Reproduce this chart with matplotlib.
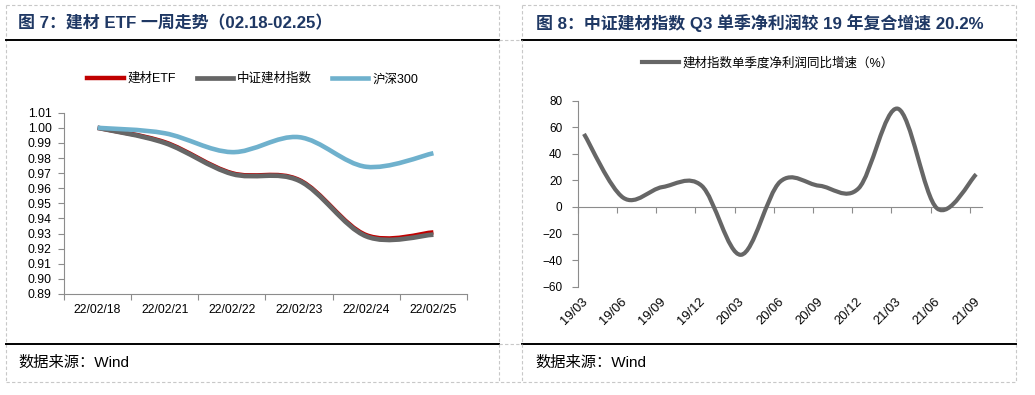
import matplotlib.pyplot as plt
from matplotlib.path import Path
from matplotlib.patches import PathPatch
from matplotlib.lines import Line2D
import matplotlib.transforms as mtransforms

plt.rcParams["font.family"] = ["Liberation Sans", "Noto Sans CJK SC", "DejaVu Sans"]

# ---- data: figure 7 (one-week trend) ----
days = ["22/02/18", "22/02/21", "22/02/22", "22/02/23", "22/02/24", "22/02/25"]
etf = [1.000, 0.9905, 0.9700, 0.9655, 0.9290, 0.9308]
index_jc = [1.000, 0.9900, 0.9695, 0.9650, 0.9282, 0.9293]
hs300 = [1.000, 0.9964, 0.9839, 0.9938, 0.9742, 0.9832]

# ---- data: figure 8 (quarterly net profit yoy, %) ----
quarters = ["19/03", "19/06", "19/09", "19/12", "20/03", "20/06",
            "20/09", "20/12", "21/03", "21/06", "21/09"]
profit_yoy = [55, 7, 15, 16, -36, 19, 16, 14, 74, -1, 24.6]

RED = "#C00000"
GRAY = "#666666"
BLUE = "#6FB1CD"
NAVY = "#1F3864"
AXC = "#8C8C8C"


def smooth_path(xs, ys):
    # excel style smoothed line drawn as cubic bezier segments
    pts = list(zip(xs, ys))
    n = len(pts)
    verts = [pts[0]]
    codes = [Path.MOVETO]
    for i in range(n - 1):
        p0 = pts[i - 1] if i > 0 else pts[i]
        p1 = pts[i]
        p2 = pts[i + 1]
        p3 = pts[i + 2] if i + 2 < n else pts[i + 1]
        c1 = (p1[0] + (p2[0] - p0[0]) / 6, p1[1] + (p2[1] - p0[1]) / 6)
        c2 = (p2[0] - (p3[0] - p1[0]) / 6, p2[1] - (p3[1] - p1[1]) / 6)
        verts += [c1, c2, p2]
        codes += [Path.CURVE4] * 3
    return Path(verts, codes)


def draw_smooth(ax, xs, ys, color, lw, z):
    patch = PathPatch(smooth_path(xs, ys), facecolor="none", edgecolor=color,
                      lw=lw, capstyle="butt", joinstyle="round", zorder=z)
    ax.add_patch(patch)


fig = plt.figure(figsize=(10.35, 3.95), dpi=100)
W, H = 1035.0, 395.0


def fx(px):
    return px / W


def fy(py):
    return 1 - py / H


# ---- frame: dashed cell borders, black rules, titles, sources ----
dash = dict(color="#C8C8C8", lw=0.8, ls=(0, (3, 2)), transform=fig.transFigure)
for x0, x1 in [(6, 499), (522, 1016)]:
    fig.add_artist(Line2D([fx(x0), fx(x1)], [fy(5), fy(5)], **dash))
    fig.add_artist(Line2D([fx(x0), fx(x0)], [fy(5), fy(382)], **dash))
    fig.add_artist(Line2D([fx(x1), fx(x1)], [fy(5), fy(382)], **dash))
    fig.add_artist(Line2D([fx(x0), fx(x1)], [fy(40), fy(40)], color="black", lw=1.4,
                          transform=fig.transFigure))
    fig.add_artist(Line2D([fx(x0), fx(x1)], [fy(344), fy(344)], color="black", lw=1.4,
                          transform=fig.transFigure))
fig.add_artist(Line2D([fx(6), fx(1016)], [fy(382), fy(382)], **dash))
fig.add_artist(Line2D([fx(499), fx(522)], [fy(40), fy(40)], **dash))
fig.add_artist(Line2D([fx(499), fx(522)], [fy(344), fy(344)], **dash))

fig.text(fx(18), fy(23), "图 7：建材 ETF 一周走势（02.18-02.25）", fontsize=12.2,
         fontweight="bold", color=NAVY, va="center", ha="left")
fig.text(fx(536), fy(23), "图 8：中证建材指数 Q3 单季净利润较 19 年复合增速 20.2%", fontsize=12.2,
         fontweight="bold", color=NAVY, va="center", ha="left")
fig.text(fx(18), fy(363), "数据来源：Wind", fontsize=11, va="center", ha="left")
fig.text(fx(535), fy(363), "数据来源：Wind", fontsize=11, va="center", ha="left")

# ---- left chart ----
ax1 = fig.add_axes([fx(64), fy(294), fx(467 - 64), (294 - 112.7) / H])
xs1 = list(range(len(days)))
draw_smooth(ax1, xs1, etf, RED, 3.2, 3)
draw_smooth(ax1, xs1, index_jc, GRAY, 3.4, 4)
draw_smooth(ax1, xs1, hs300, BLUE, 3.3, 5)
ax1.set_xlim(-0.5, len(days) - 0.5)
ax1.set_ylim(0.89, 1.01)
ax1.set_yticks([0.89 + 0.01 * k for k in range(13)])
ax1.yaxis.set_major_formatter(plt.FuncFormatter(lambda v, p: f"{v:.2f}"))
ax1.set_xticks([i - 0.5 for i in range(len(days) + 1)])
ax1.set_xticklabels([])
ax1.set_xticks(xs1, minor=True)
ax1.set_xticklabels(days, minor=True)
ax1.tick_params(axis="x", which="major", length=4, width=0.8, color=AXC, direction="out")
ax1.tick_params(axis="x", which="minor", length=0, pad=7, labelsize=8.7)
ax1.tick_params(axis="y", length=4, width=0.8, color=AXC, pad=5, labelsize=8.7)
for s in ["top", "right"]:
    ax1.spines[s].set_visible(False)
for s in ["left", "bottom"]:
    ax1.spines[s].set_color(AXC)
    ax1.spines[s].set_linewidth(0.8)

handles1 = [Line2D([], [], color=RED, lw=3.2),
            Line2D([], [], color=GRAY, lw=3.4),
            Line2D([], [], color=BLUE, lw=3.3)]
fig.legend(handles1, ["建材ETF", "中证建材指数", "沪深300"], loc="center",
           bbox_to_anchor=(fx(253), fy(79)), ncol=3, frameon=False, fontsize=9,
           handlelength=2.9, handletextpad=0.35, columnspacing=1.6)

# ---- right chart ----
ax2 = fig.add_axes([fx(577.7), fy(286.7), fx(981.7 - 577.7), (286.7 - 100.7) / H])
xs2 = list(range(len(quarters)))
draw_smooth(ax2, xs2, profit_yoy, GRAY, 3.0, 4)
ax2.set_xlim(-0.16, 10.14)
ax2.set_ylim(-60, 80)
ax2.set_yticks(range(-60, 81, 20))
ax2.set_xticks([i - 0.16 for i in range(len(quarters))])
ax2.set_xticklabels([])
ax2.spines["bottom"].set_position(("data", 0))
ax2.tick_params(axis="x", length=4, width=0.8, color=AXC, direction="out")
ax2.tick_params(axis="y", length=4, width=0.8, color=AXC, pad=7, labelsize=8.5)
for s in ["top", "right"]:
    ax2.spines[s].set_visible(False)
for s in ["left", "bottom"]:
    ax2.spines[s].set_color(AXC)
    ax2.spines[s].set_linewidth(0.8)
trans = mtransforms.blended_transform_factory(ax2.transData, ax2.transAxes)
for i, q in enumerate(quarters):
    ax2.text(i + 0.15, -0.05, q, transform=trans, rotation=45, ha="right", va="top",
             fontsize=9.3)

fig.legend([Line2D([], [], color=GRAY, lw=3.0)], ["建材指数单季度净利润同比增速（%）"],
           loc="center", bbox_to_anchor=(fx(768), fy(63)), frameon=False, fontsize=9,
           handlelength=3.0, handletextpad=0.3)

fig.savefig("out.png", dpi=100)
